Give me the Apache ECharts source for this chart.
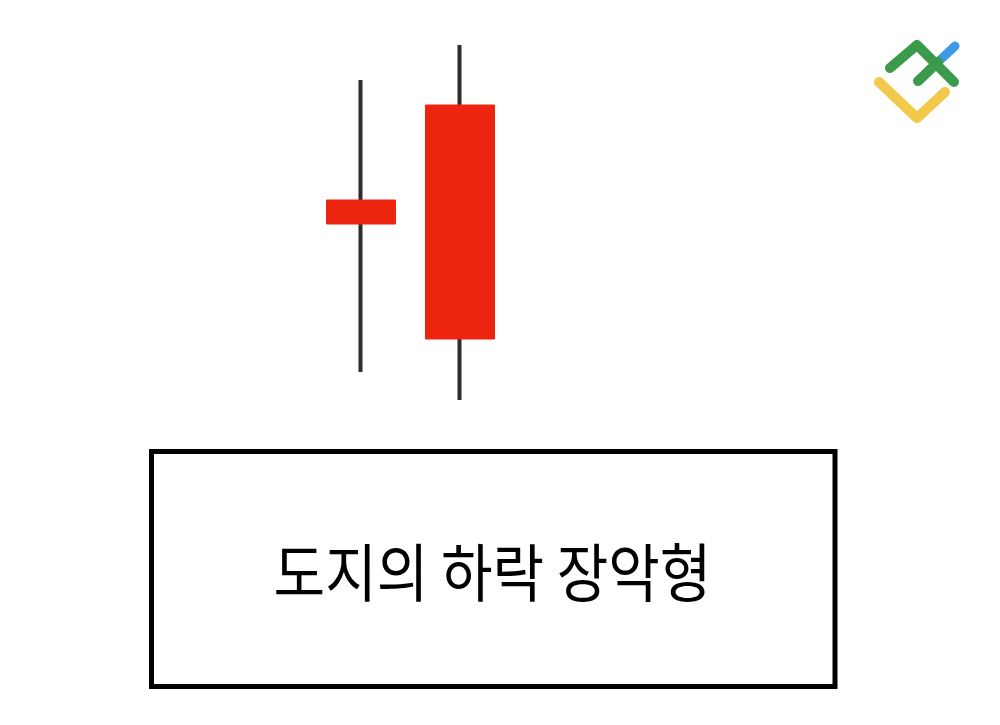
<!DOCTYPE html>
<html>
<head>
<meta charset="utf-8">
<script src="https://cdn.jsdelivr.net/npm/echarts@6/dist/echarts.min.js"></script>
<style>html,body{margin:0;padding:0;background:#fff;}#main{width:1000px;height:725px;}</style>
</head>
<body>
<div id="main"></div>
<script>
// Data
var categories = ['도지', '장악'];
// [open, close, low, high]
var openValues  = [60, 83.75];
var closeValues = [54, 25.25];
var lowValues   = [17, 10];
var highValues  = [90, 98.75];
var labelText = '도지의 하락 장악형';

var wickData = categories.map(function (c, i) {
  return [openValues[i], closeValues[i], lowValues[i], highValues[i]];
});
var bodyData = categories.map(function (c, i) {
  var top = Math.max(openValues[i], closeValues[i]);
  var bot = Math.min(openValues[i], closeValues[i]);
  return [openValues[i], closeValues[i], bot, top];
});

var chart = echarts.init(document.getElementById('main'), null, {renderer: 'canvas'});
chart.setOption({
  backgroundColor: '#ffffff',
  animation: false,
  grid: {left: 311.5, width: 198, top: 40, height: 400},
  xAxis: {
    type: 'category', data: categories, boundaryGap: true,
    axisLine: {show: false}, axisTick: {show: false}, axisLabel: {show: false}, splitLine: {show: false}
  },
  yAxis: {
    type: 'value', min: 0, max: 100,
    axisLine: {show: false}, axisTick: {show: false}, axisLabel: {show: false}, splitLine: {show: false}
  },
  series: [
    {
      type: 'candlestick', name: 'wick', data: wickData, barWidth: 1,
      itemStyle: {color: '#2d2d2d', color0: '#2d2d2d', borderColor: '#2d2d2d', borderColor0: '#2d2d2d', borderWidth: 4},
      silent: true
    },
    {
      type: 'candlestick', name: 'body', data: bodyData, barWidth: 69,
      itemStyle: {color: '#ed2410', color0: '#ed2410', borderColor: '#ed2410', borderColor0: '#ed2410', borderWidth: 1},
      silent: true
    }
  ],
  graphic: [
    {
      type: 'rect', shape: {x: 151.5, y: 451.5, width: 683.5, height: 235},
      style: {fill: '#fff', stroke: '#000', lineWidth: 5}, z: 1
    },
    {
      type: 'text', x: 492.5, y: 572.5, scaleX: 0.89, scaleY: 1,
      style: {text: labelText, fontSize: 63, fontFamily: 'Noto Sans CJK KR', fill: '#000', align: 'center', verticalAlign: 'middle'},
      z: 2
    },
    // logo
    {
      type: 'polyline', shape: {points: [[938, 62], [955, 46]]},
      style: {stroke: '#3d9be6', lineWidth: 9, lineCap: 'round', lineJoin: 'round', fill: null}, z: 3
    },
    {
      type: 'polyline', shape: {points: [[890, 68], [917, 45], [954, 82]]},
      style: {stroke: '#3b9a4b', lineWidth: 10, lineCap: 'round', lineJoin: 'round', fill: null}, z: 4
    },
    {
      type: 'polyline', shape: {points: [[918, 81], [938, 62]]},
      style: {stroke: '#3b9a4b', lineWidth: 10, lineCap: 'round', lineJoin: 'round', fill: null}, z: 4
    },
    {
      type: 'polyline', shape: {points: [[879, 82], [917, 118], [945, 92]]},
      style: {stroke: '#f3c94b', lineWidth: 10, lineCap: 'round', lineJoin: 'round', fill: null}, z: 3
    }
  ]
});
</script>
</body>
</html>
